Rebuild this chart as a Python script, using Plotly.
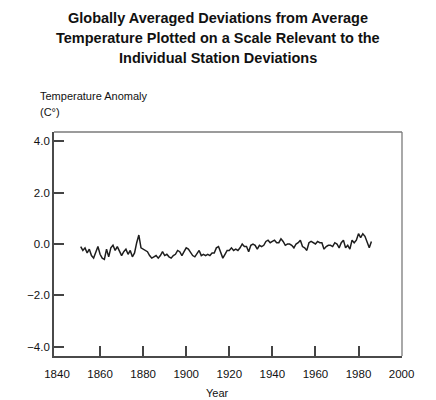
import plotly.graph_objects as go

years = list(range(1851, 1987))
anomaly = [
    -0.10, -0.25, -0.15, -0.35, -0.20, -0.45, -0.55, -0.30, -0.10, -0.40,  # 1851-1860
    -0.55, -0.60, -0.20, -0.50, -0.15, -0.05, -0.25, -0.10, -0.30, -0.45,  # 1861-1870
    -0.30, -0.20, -0.40, -0.25, -0.50, -0.35, 0.05, 0.35, -0.15, -0.20,    # 1871-1880
    -0.25, -0.30, -0.45, -0.55, -0.50, -0.45, -0.55, -0.45, -0.30, -0.45,  # 1881-1890
    -0.40, -0.50, -0.55, -0.45, -0.40, -0.25, -0.30, -0.45, -0.30, -0.15,  # 1891-1900
    -0.20, -0.35, -0.45, -0.50, -0.35, -0.25, -0.45, -0.40, -0.45, -0.40,  # 1901-1910
    -0.45, -0.35, -0.35, -0.15, -0.10, -0.35, -0.55, -0.40, -0.25, -0.25,  # 1911-1920
    -0.15, -0.25, -0.20, -0.25, -0.15, 0.00, -0.10, -0.10, -0.30, -0.05,   # 1921-1930
    0.00, -0.05, -0.20, -0.05, -0.10, -0.05, 0.10, 0.15, 0.05, 0.10,       # 1931-1940
    0.15, 0.05, 0.05, 0.20, 0.10, -0.05, 0.00, 0.00, -0.05, -0.15,         # 1941-1950
    0.00, 0.05, 0.15, -0.10, -0.15, -0.25, 0.05, 0.10, 0.05, 0.00,         # 1951-1960
    0.10, 0.05, 0.05, -0.20, -0.10, -0.05, -0.05, -0.10, 0.05, 0.00,       # 1961-1970
    -0.15, 0.05, 0.15, -0.15, -0.05, -0.20, 0.15, 0.05, 0.15, 0.40,        # 1971-1980
    0.25, 0.40, 0.30, 0.05, -0.15, 0.10,                                   # 1981-1986
]

x_tick_vals = [1840, 1860, 1880, 1900, 1920, 1940, 1960, 1980, 2000]
x_tick_text = ["1840", "1860", "1880", "1900", "1920", "1940", "1960", "1980", "2000"]
x_mark_vals = [1860, 1880, 1900, 1920, 1940, 1960, 1980]
y_tick_vals = [-4, -2, 0, 2, 4]
y_tick_text = ["\u22124.0", "\u22122.0", "0.0", "2.0", "4.0"]

title_lines = [
    "Globally Averaged Deviations from Average",
    "Temperature Plotted on a Scale Relevant to the",
    "Individual Station Deviations",
]

FONT = "Liberation Sans, Arial, sans-serif"

W, H = 436, 400
pl, pr, pt, pb = 54, 34, 132, 44
pw, ph = W - pl - pr, H - pt - pb


def px(x):
    return (x - pl) / pw


def py(y):
    return 1 - (y - pt) / ph


fig = go.Figure()
fig.add_trace(go.Scatter(
    x=years, y=anomaly, mode="lines",
    line=dict(color="#1e1e1e", width=1.5),
    showlegend=False, hoverinfo="skip",
))

anns = []
for i, line in enumerate(title_lines):
    anns.append(dict(
        text="<b>" + line + "</b>", x=px(218), y=py(18 + 20 * i),
        xref="paper", yref="paper", showarrow=False,
        font=dict(size=14.5, family=FONT, color="#111111"),
        xanchor="center", yanchor="middle",
    ))
anns.append(dict(text="Temperature Anomaly", x=px(38), y=py(96),
                 xref="paper", yref="paper", showarrow=False,
                 font=dict(size=11, family=FONT, color="#111111"),
                 xanchor="left", yanchor="middle"))
anns.append(dict(text="(C\u00b0)", x=px(38), y=py(112),
                 xref="paper", yref="paper", showarrow=False,
                 font=dict(size=11, family=FONT, color="#111111"),
                 xanchor="left", yanchor="middle"))
anns.append(dict(text="Year", x=px(217), y=py(393),
                 xref="paper", yref="paper", showarrow=False,
                 font=dict(size=11, family=FONT, color="#111111"),
                 xanchor="center", yanchor="middle"))

frame_shapes = [
    dict(type="line", xref="paper", yref="paper", x0=0, x1=1, y0=1, y1=1,
         line=dict(color="#7a7a7a", width=1.3)),
    dict(type="line", xref="paper", yref="paper", x0=1, x1=1, y0=0, y1=1,
         line=dict(color="#7a7a7a", width=1.3)),
]

fig.update_layout(
    width=W, height=H,
    margin=dict(l=pl, r=pr, t=pt, b=pb),
    paper_bgcolor="white", plot_bgcolor="white",
    font=dict(family=FONT, size=11, color="#111111"),
    showlegend=False,
    annotations=anns,
    shapes=frame_shapes,
)

fig.update_xaxes(
    range=[1838.6, 2000.2],
    tickmode="array", tickvals=x_tick_vals, ticktext=x_tick_text,
    ticks="", ticklen=0,
    minor=dict(tickmode="array", tickvals=x_mark_vals, ticks="inside",
               ticklen=10, tickwidth=1.6, tickcolor="#444444", showgrid=False),
    showgrid=False, zeroline=False,
    showline=True, linecolor="#4a4a4a", linewidth=1.7, mirror=False,
    tickfont=dict(size=11.5, family=FONT, color="#111111"),
    ticklabelstandoff=6,
)
fig.update_yaxes(
    range=[-4.36, 4.36],
    tickmode="array", tickvals=y_tick_vals, ticktext=y_tick_text,
    ticks="inside", ticklen=10, tickwidth=1.6, tickcolor="#444444",
    showgrid=False, zeroline=False,
    showline=True, linecolor="#4a4a4a", linewidth=1.7, mirror=False,
    tickfont=dict(size=11.5, family=FONT, color="#111111"),
)

fig.write_html("out.html", config={"displayModeBar": False},
               post_script="document.body.style.margin='0';")
